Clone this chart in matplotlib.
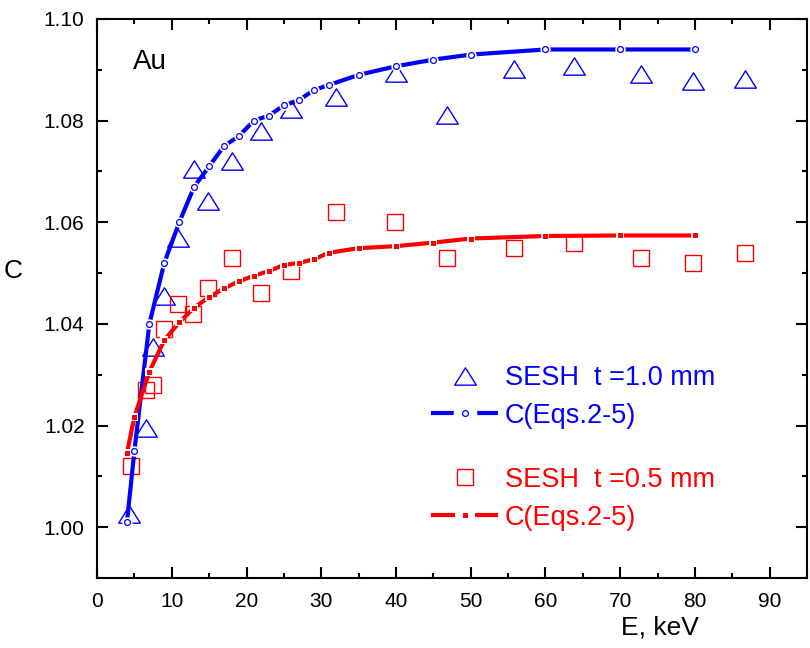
import numpy as np
import matplotlib
matplotlib.use("Agg")
import matplotlib.pyplot as plt
from matplotlib.path import Path
from matplotlib.lines import Line2D
from matplotlib.ticker import MultipleLocator, FormatStrFormatter

plt.rcParams['font.family'] = ['Liberation Sans', 'DejaVu Sans']

# measured points, SESH t = 1.0 mm (triangles)
e_thick = [4.3, 6.5, 7.5, 8.9, 10.8, 13, 14.9, 18, 22, 26, 32, 40, 46.8, 55.8, 63.8, 72.8, 79.8, 86.7]
c_thick = [1.0025, 1.0195, 1.0355, 1.0455, 1.0570, 1.0705, 1.0642, 1.0720, 1.0780, 1.0822, 1.0847,
           1.0893, 1.0812, 1.0902, 1.0907, 1.0892, 1.0877, 1.0882]

# measured points, SESH t = 0.5 mm (squares)
e_thin = [4.5, 6.5, 7.5, 8.9, 10.9, 12.9, 14.9, 18, 21.9, 26, 32, 39.9, 46.8, 55.8, 63.8, 72.8, 79.8, 86.7]
c_thin = [1.012, 1.027, 1.028, 1.039, 1.044, 1.042, 1.047, 1.053, 1.046, 1.0505, 1.062,
          1.060, 1.053, 1.055, 1.056, 1.053, 1.052, 1.054]

# calculated curves C(Eqs.2-5)
e_calc = [4, 5, 7, 9, 11, 13, 15, 17, 19, 21, 23, 25, 27, 29, 31, 35, 40, 45, 50, 60, 70, 80]
c_calc_thick = [1.001, 1.015, 1.040, 1.052, 1.060, 1.067, 1.071, 1.075, 1.077, 1.080, 1.081,
                1.083, 1.084, 1.086, 1.087, 1.089, 1.0907, 1.092, 1.093, 1.094, 1.094, 1.094]
c_calc_thin = [1.0146, 1.0217, 1.0306, 1.0368, 1.0403, 1.0432, 1.0453, 1.0470, 1.0484, 1.0495,
               1.0504, 1.0516, 1.0520, 1.0527, 1.0540, 1.0549, 1.0553, 1.0560, 1.0568, 1.0573,
               1.0574, 1.0574]

blue = '#0000ff'
red = '#ff0000'

tri = Path([(-1, -0.8), (1, -0.8), (0, 0.8), (-1, -0.8)],
           [Path.MOVETO, Path.LINETO, Path.LINETO, Path.CLOSEPOLY])

fig = plt.figure(figsize=(8.1, 6.48), dpi=100)
ax = fig.add_axes([0.1198, 0.108, 0.8765, 0.8627])

h_tri, = ax.plot(e_thick, c_thick, linestyle='none', marker=tri, ms=15.6,
                 mfc='none', mec=blue, mew=1.0)
h_sq, = ax.plot(e_thin, c_thin, linestyle='none', marker='s', ms=11.3,
                mfc='none', mec=red, mew=1.0)

ax.plot(e_calc, c_calc_thick, color=blue, lw=3, marker='o', ms=7.5,
        mfc='white', mec='white', mew=0, zorder=3)
ax.plot(e_calc, c_calc_thick, linestyle='none', marker='o', ms=4.2,
        mfc='white', mec=blue, mew=0.9, zorder=4)
ax.plot(e_calc, c_calc_thin, color=red, lw=3, marker='s', ms=6,
        mfc='white', mec='white', mew=0, zorder=3)
ax.plot(e_calc, c_calc_thin, linestyle='none', marker='s', ms=3.6,
        mfc=red, mec=red, mew=0, zorder=4)

# legend handles: dash - marker - dash
lb1 = Line2D([], [], color=blue, lw=3, marker='o', ms=17, mfc='white', mec='white', mew=0)
lb2 = Line2D([], [], linestyle='none', marker='o', ms=4.2, mfc='white', mec=blue, mew=0.9)
lr1 = Line2D([], [], color=red, lw=3, marker='s', ms=15, mfc='white', mec='white', mew=0)
lr2 = Line2D([], [], linestyle='none', marker='s', ms=3.6, mfc=red, mec=red, mew=0)

ax.set_xlim(0, 95)
ax.set_ylim(0.99, 1.10)
ax.xaxis.set_major_locator(MultipleLocator(10))
ax.xaxis.set_minor_locator(MultipleLocator(5))
ax.yaxis.set_minor_locator(MultipleLocator(0.01))
ax.set_yticks([1.00, 1.02, 1.04, 1.06, 1.08, 1.10])
ax.yaxis.set_major_formatter(FormatStrFormatter('%.2f'))

for s in ax.spines.values():
    s.set_linewidth(1.5)
ax.tick_params(which='both', direction='in', top=True, right=True, width=1.5)
ax.tick_params(which='major', length=8, labelsize=15)
ax.tick_params(which='minor', length=3.5)
ax.tick_params(axis='x', which='major', pad=10)
ax.tick_params(axis='y', which='major', pad=9)

ax.set_xlabel('E, keV', fontsize=19, va='center', ha='center')
ax.xaxis.set_label_coords(0.793, -0.089)
ax.set_ylabel('C', fontsize=19, rotation=0, va='center', ha='center')
ax.yaxis.set_label_coords(-0.118, 0.55)

ax.text(0.05, 0.923, 'Au', transform=ax.transAxes, fontsize=20, va='center', ha='left')

leg1 = ax.legend([h_tri, (lb1, lb2)], ['SESH  t =1.0 mm', 'C(Eqs.2-5)'],
                 loc='upper left', bbox_to_anchor=(0.473, 0.381), frameon=False,
                 fontsize=19.5, labelcolor=blue, handlelength=2.35, handletextpad=0.3,
                 numpoints=1, labelspacing=0.44, borderpad=0, borderaxespad=0)
ax.add_artist(leg1)
ax.legend([h_sq, (lr1, lr2)], ['SESH  t =0.5 mm', 'C(Eqs.2-5)'],
          loc='upper left', bbox_to_anchor=(0.473, 0.199), frameon=False,
          fontsize=19.5, labelcolor=red, handlelength=2.35, handletextpad=0.3,
          numpoints=1, labelspacing=0.44, borderpad=0, borderaxespad=0)

fig.savefig('out.png', dpi=100)
